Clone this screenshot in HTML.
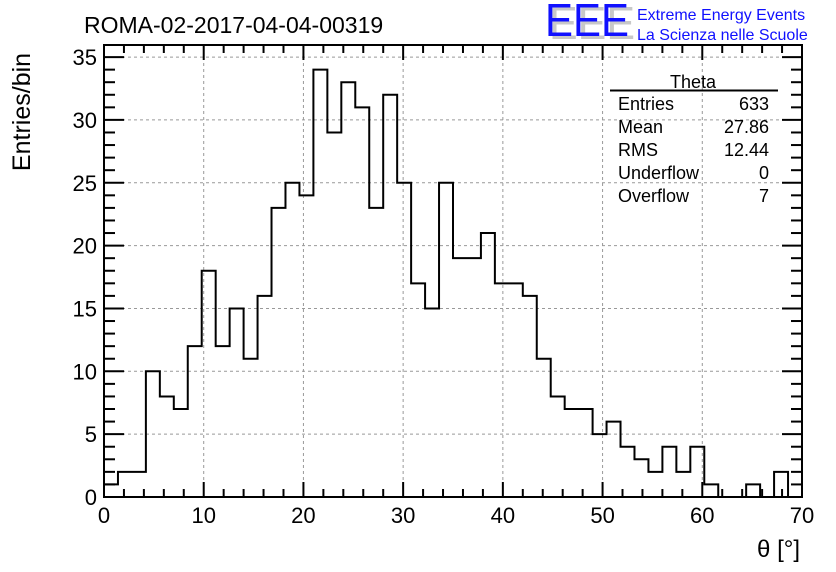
<!DOCTYPE html>
<html><head><meta charset="utf-8"><style>
body{margin:0;background:#fff;}
svg{display:block;font-family:"Liberation Sans",sans-serif;}
</style></head><body>
<svg id="chart" width="836" height="572" viewBox="0 0 836 572">
<rect width="836" height="572" fill="#fff"/>
<g id="grid"></g>
<g id="axes"></g>
<path id="hist" fill="none" stroke="#000" stroke-width="2"/>
<rect x="104" y="45" width="698" height="452" fill="none" stroke="#000" stroke-width="2"/>
<text x="84" y="33" font-size="23">ROMA-02-2017-04-04-00319</text>
<text transform="translate(30,112) rotate(-90)" text-anchor="middle" font-size="25">Entries/bin</text>
<text x="800" y="557" text-anchor="end" font-size="24">θ [°]</text>
<g>
<text x="549" y="39" font-size="46" fill="#c8c8c8" textLength="86" lengthAdjust="spacingAndGlyphs">EEE</text>
<text x="545" y="36" font-size="46" fill="#1010ff" textLength="84" lengthAdjust="spacingAndGlyphs">EEE</text>
<text x="637" y="20" font-size="16" fill="#1010ff">Extreme Energy Events</text>
<text x="637" y="40" font-size="16" fill="#1010ff">La Scienza nelle Scuole</text>
</g>
<g font-size="18">
<text x="693" y="88" text-anchor="middle">Theta</text>
<line x1="610" y1="90.5" x2="778" y2="90.5" stroke="#000" stroke-width="2"/>
<text x="618" y="110">Entries</text><text x="769" y="110" text-anchor="end">633</text>
<text x="618" y="133">Mean</text><text x="769" y="133" text-anchor="end">27.86</text>
<text x="618" y="156">RMS</text><text x="769" y="156" text-anchor="end">12.44</text>
<text x="618" y="179">Underflow</text><text x="769" y="179" text-anchor="end">0</text>
<text x="618" y="202">Overflow</text><text x="769" y="202" text-anchor="end">7</text>
</g>
</svg>
<script>
const binEdgesStart = 0;
const binWidth = 1.4;
const counts = [1,2,2,10,8,7,12,18,12,15,11,16,23,25,24,34,29,33,31,23,32,25,17,15,25,19,19,21,17,17,16,11,8,7,7,5,6,4,3,2,4,2,4,1,0,0,1,0,2,0];
const xTicks = [0,10,20,30,40,50,60,70];
const yTicks = [0,5,10,15,20,25,30,35];
const X0=104,X1=802,Y0=497,YT=45,XMAX=70,YMAX=35.96;
const sx=v=>X0+v*(X1-X0)/XMAX;
const sy=v=>Y0-v*(Y0-YT)/YMAX;
const NS="http://www.w3.org/2000/svg";
const grid=document.getElementById('grid'), axes=document.getElementById('axes');
function ln(g,x1,y1,x2,y2,st,w,dash){const l=document.createElementNS(NS,'line');l.setAttribute('x1',x1);l.setAttribute('y1',y1);l.setAttribute('x2',x2);l.setAttribute('y2',y2);l.setAttribute('stroke',st);l.setAttribute('stroke-width',w);if(dash)l.setAttribute('stroke-dasharray',dash);g.appendChild(l);return l;}
function tx(x,y,s,anchor){const t=document.createElementNS(NS,'text');t.setAttribute('x',x);t.setAttribute('y',y);t.setAttribute('font-size','22');t.setAttribute('text-anchor',anchor);t.textContent=s;axes.appendChild(t);return t;}
xTicks.forEach(v=>{const x=sx(v);
 if(v>0&&v<XMAX){const g=ln(grid,x,YT,x,Y0,'#999',1,'3,3');}
 ln(axes,x,Y0,x,Y0-15,'#000',2);ln(axes,x,YT,x,YT+15,'#000',2);
 const t=tx(x,523,String(v),'middle');
 
 
});
for(let v=2;v<XMAX;v+=2){if(v%10===0)continue;const x=sx(v);ln(axes,x,Y0,x,Y0-8,'#000',2);ln(axes,x,YT,x,YT+8,'#000',2);}
yTicks.forEach(v=>{const y=sy(v);
 if(v>0){const g=ln(grid,X0,y,X1,y,'#999',1,'3,3');}
 ln(axes,X0,y,X0+20,y,'#000',2);ln(axes,X1,y,X1-20,y,'#000',2);
 const t=tx(97,y+8,String(v),'end');
 
 
});
for(let v=1;v<YMAX;v++){if(v%5===0)continue;const y=sy(v);ln(axes,X0,y,X0+11,y,'#000',2);ln(axes,X1,y,X1-11,y,'#000',2);}
let d='M'+sx(binEdgesStart)+','+sy(0);
counts.forEach((c,i)=>{const a=sx(binEdgesStart+i*binWidth),b=sx(binEdgesStart+(i+1)*binWidth);d+=' L'+a+','+sy(c)+' L'+b+','+sy(c);});
d+=' L'+sx(binEdgesStart+counts.length*binWidth)+','+sy(0);
document.getElementById('hist').setAttribute('d',d);
</script>
</body></html>
